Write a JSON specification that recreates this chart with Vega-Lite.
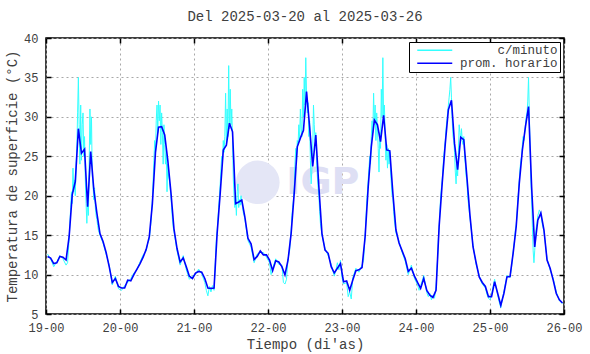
{
 "$schema": "https://vega.github.io/schema/vega-lite/v6.json",
 "width": 518,
 "height": 276,
 "autosize": {"type": "none"},
 "padding": {"left": 46, "top": 38, "right": 26, "bottom": 40},
 "background": "white",
 "title": {"text": "Del 2025-03-20 al 2025-03-26", "font": "Liberation Mono", "fontSize": 14, "fontWeight": "normal", "color": "#404040", "offset": 8},
 "config": {
  "view": {"stroke": "#000", "strokeWidth": 1.5},
  "axis": {"labelFont": "Liberation Mono", "labelFontSize": 12, "labelColor": "#404040", "titleFont": "Liberation Mono", "titleFontSize": 14, "titleFontWeight": "normal", "titleColor": "#404040", "domain": false, "tickColor": "#000", "tickSize": -5, "tickWidth": 1.5, "gridColor": "#a8a8a8", "gridDash": [2, 3], "gridWidth": 1},
  "legend": {"orient": "top-right", "offset": 4, "title": null, "strokeColor": "#000", "fillColor": "#fff", "padding": 2, "symbolType": "M-1,0L6,0", "symbolSize": 100, "symbolStrokeWidth": 1.5, "symbolOffset": 5, "labelFont": "Liberation Mono", "labelFontSize": 12.5, "labelColor": "#404040", "labelAlign": "right", "labelOffset": 129, "rowPadding": 0, "cornerRadius": 0}
 },
 "datasets": {
  "horario": [
   {"h":0.5,"v":12.3},{"h":1.5,"v":12.1},{"h":2.5,"v":11.4},{"h":3.5,"v":11.5},{"h":4.5,"v":12.3},{"h":5.5,"v":12.2},{"h":6.5,"v":11.85},{"h":7.5,"v":14.8},{"h":8.5,"v":20.1},{"h":9.5,"v":21.8},{"h":10.5,"v":28.5},{"h":11.5,"v":25.4},{"h":12.5,"v":25.9},{"h":13.5,"v":18.6},{"h":14.5,"v":25.6},{"h":15.5,"v":20.8},{"h":16.5,"v":17.8},{"h":17.5,"v":15.2},{"h":18.5,"v":14.2},{"h":19.5,"v":12.8},{"h":20.5,"v":11.0},{"h":21.5,"v":9.0},{"h":22.5,"v":9.5},{"h":23.5,"v":8.5},
   {"h":24.5,"v":8.3},{"h":25.5,"v":8.3},{"h":26.5,"v":9.3},{"h":27.5,"v":9.2},{"h":28.5,"v":10.0},{"h":29.5,"v":10.7},{"h":30.5,"v":11.4},{"h":31.5,"v":12.2},{"h":32.5,"v":13.2},{"h":33.5,"v":14.8},{"h":34.5,"v":19.0},{"h":35.5,"v":25.5},{"h":36.5,"v":28.7},{"h":37.5,"v":28.75},{"h":38.5,"v":27.7},{"h":39.5,"v":24.5},{"h":40.5,"v":20.5},{"h":41.5,"v":15.8},{"h":42.5,"v":13.3},{"h":43.5,"v":11.6},{"h":44.5,"v":12.1},{"h":45.5,"v":11.0},{"h":46.5,"v":9.8},{"h":47.5,"v":9.5},
   {"h":48.5,"v":10.2},{"h":49.5,"v":10.4},{"h":50.5,"v":10.3},{"h":51.5,"v":9.5},{"h":52.5,"v":8.3},{"h":53.5,"v":8.25},{"h":54.5,"v":8.3},{"h":55.5,"v":15.2},{"h":56.5,"v":20.3},{"h":57.5,"v":25.8},{"h":58.5,"v":26.4},{"h":59.5,"v":29.2},{"h":60.5,"v":28.1},{"h":61.5,"v":19.0},{"h":62.5,"v":19.2},{"h":63.5,"v":19.45},{"h":64.5,"v":17.3},{"h":65.5,"v":14.6},{"h":66.5,"v":13.9},{"h":67.5,"v":11.9},{"h":68.5,"v":12.3},{"h":69.5,"v":13.0},{"h":70.5,"v":12.5},{"h":71.5,"v":12.5},
   {"h":72.5,"v":11.85},{"h":73.5,"v":10.5},{"h":74.5,"v":11.75},{"h":75.5,"v":11.6},{"h":76.5,"v":11.0},{"h":77.5,"v":9.95},{"h":78.5,"v":11.85},{"h":79.5,"v":15.2},{"h":80.5,"v":20.3},{"h":81.5,"v":26.2},{"h":82.5,"v":27.3},{"h":83.5,"v":28.3},{"h":84.5,"v":33.2},{"h":85.5,"v":28.75},{"h":86.5,"v":23.7},{"h":87.5,"v":27.7},{"h":88.5,"v":21.1},{"h":89.5,"v":15.2},{"h":90.5,"v":13.1},{"h":91.5,"v":12.7},{"h":92.5,"v":11.0},{"h":93.5,"v":10.2},{"h":94.5,"v":10.8},{"h":95.5,"v":11.4},
   {"h":96.5,"v":9.1},{"h":97.5,"v":9.2},{"h":98.5,"v":8.0},{"h":99.5,"v":9.3},{"h":100.5,"v":10.5},{"h":101.5,"v":10.6},{"h":102.5,"v":10.9},{"h":103.5,"v":14.8},{"h":104.5,"v":21.1},{"h":105.5,"v":26.2},{"h":106.5,"v":29.6},{"h":107.5,"v":29.0},{"h":108.5,"v":26.85},{"h":109.5,"v":30.2},{"h":110.5,"v":25.8},{"h":111.5,"v":25.7},{"h":112.5,"v":20.3},{"h":113.5,"v":15.65},{"h":114.5,"v":14.0},{"h":115.5,"v":13.0},{"h":116.5,"v":12.0},{"h":117.5,"v":10.4},{"h":118.5,"v":10.8},{"h":119.5,"v":9.8},
   {"h":120.5,"v":9.0},{"h":121.5,"v":8.25},{"h":122.5,"v":9.5},{"h":123.5,"v":8.0},{"h":124.5,"v":7.4},{"h":125.5,"v":7.1},{"h":126.5,"v":8.0},{"h":127.5,"v":16.1},{"h":128.5,"v":21.6},{"h":129.5,"v":26.6},{"h":130.5,"v":30.9},{"h":131.5,"v":32.1},{"h":132.5,"v":26.6},{"h":133.5,"v":23.3},{"h":134.5,"v":27.4},{"h":135.5,"v":27.1},{"h":136.5,"v":22.4},{"h":137.5,"v":17.5},{"h":138.5,"v":13.5},{"h":139.5,"v":11.5},{"h":140.5,"v":9.7},{"h":141.5,"v":9.0},{"h":142.5,"v":8.5},{"h":143.5,"v":7.2},
   {"h":144.5,"v":7.2},{"h":145.5,"v":9.1},{"h":146.5,"v":7.6},{"h":147.5,"v":6.1},{"h":148.5,"v":7.6},{"h":149.5,"v":9.7},{"h":150.5,"v":9.75},{"h":151.5,"v":12.7},{"h":152.5,"v":16.1},{"h":153.5,"v":21.6},{"h":154.5,"v":25.8},{"h":155.5,"v":28.75},{"h":156.5,"v":31.3},{"h":157.5,"v":21.1},{"h":158.5,"v":13.5},{"h":159.5,"v":16.9},{"h":160.5,"v":17.8},{"h":161.5,"v":15.65},{"h":162.5,"v":11.85},{"h":163.5,"v":10.8},{"h":164.5,"v":9.3},{"h":165.5,"v":7.6},{"h":166.5,"v":6.8},{"h":167.5,"v":6.4}
  ],
  "minuto": [
   {"h":0.5,"v":12.6},{"h":1.5,"v":12.0},{"h":2.5,"v":11.0},{"h":3.5,"v":11.6},{"h":4.5,"v":12.4},{"h":5.5,"v":12.0},{"h":6.5,"v":11.2},
   {"h":7.0,"v":11.5},{"h":7.25,"v":13.0},{"h":7.5,"v":14.5},{"h":7.75,"v":16.5},{"h":8.0,"v":18.5},{"h":8.25,"v":20.5},{"h":8.5,"v":19.0},{"h":8.75,"v":23.5},{"h":9.0,"v":20.5},{"h":9.25,"v":22.0},{"h":9.5,"v":20.0},{"h":9.75,"v":24.0},{"h":10.0,"v":26.0},{"h":10.25,"v":30.5},{"h":10.5,"v":35.0},{"h":10.75,"v":29.0},{"h":11.0,"v":24.0},{"h":11.25,"v":31.5},{"h":11.5,"v":24.5},{"h":11.75,"v":29.0},{"h":12.0,"v":30.5},{"h":12.25,"v":25.0},{"h":12.5,"v":27.5},{"h":12.75,"v":22.0},{"h":13.0,"v":19.0},{"h":13.25,"v":16.5},{"h":13.5,"v":19.5},{"h":13.75,"v":17.5},{"h":14.0,"v":24.0},{"h":14.25,"v":31.0},{"h":14.5,"v":26.5},{"h":14.75,"v":30.0},{"h":15.0,"v":22.5},{"h":15.25,"v":21.5},{"h":15.5,"v":19.5},{"h":15.75,"v":21.0},{"h":16.0,"v":18.5},{"h":16.25,"v":17.5},{"h":16.5,"v":17.0},{"h":16.75,"v":16.2},{"h":17.0,"v":15.6},
   {"h":17.5,"v":15.0},{"h":18.5,"v":14.0},{"h":19.5,"v":12.6},{"h":20.5,"v":11.2},{"h":21.5,"v":8.7},{"h":22.5,"v":9.8},{"h":23.5,"v":8.2},
   {"h":24.5,"v":8.0},{"h":25.5,"v":8.6},{"h":26.5,"v":9.0},{"h":27.5,"v":9.5},{"h":28.5,"v":10.2},{"h":29.5,"v":10.6},{"h":30.5,"v":11.6},{"h":31.5,"v":12.5},{"h":32.5,"v":13.0},{"h":33.0,"v":14.0},
   {"h":33.5,"v":14.5},{"h":33.75,"v":15.5},{"h":34.0,"v":16.5},{"h":34.25,"v":18.0},{"h":34.5,"v":19.5},{"h":34.75,"v":22.0},{"h":35.0,"v":24.5},{"h":35.25,"v":27.0},{"h":35.5,"v":25.0},{"h":35.75,"v":29.5},{"h":36.0,"v":31.5},{"h":36.25,"v":28.0},{"h":36.5,"v":32.0},{"h":36.75,"v":29.5},{"h":37.0,"v":31.5},{"h":37.25,"v":26.5},{"h":37.5,"v":30.5},{"h":37.75,"v":28.0},{"h":38.0,"v":24.0},{"h":38.25,"v":29.0},{"h":38.5,"v":26.5},{"h":38.75,"v":24.0},{"h":39.0,"v":26.0},{"h":39.25,"v":20.5},{"h":39.5,"v":24.0},{"h":39.75,"v":22.5},{"h":40.0,"v":22.0},{"h":40.25,"v":21.0},{"h":40.5,"v":20.0},{"h":40.75,"v":18.5},{"h":41.0,"v":17.0},{"h":41.25,"v":16.0},{"h":41.5,"v":15.5},
   {"h":42.5,"v":13.0},{"h":43.5,"v":11.2},{"h":44.5,"v":12.4},{"h":45.5,"v":10.6},{"h":46.5,"v":9.4},{"h":47.5,"v":9.8},{"h":48.5,"v":10.0},{"h":49.5,"v":10.7},{"h":50.5,"v":10.1},{"h":51.5,"v":9.0},{"h":52.0,"v":8.0},{"h":52.5,"v":7.3},{"h":53.0,"v":8.5},{"h":53.5,"v":7.8},{"h":54.0,"v":8.6},{"h":54.5,"v":8.0},
   {"h":54.75,"v":10.0},{"h":55.0,"v":12.5},{"h":55.25,"v":14.5},{"h":55.5,"v":15.5},{"h":55.75,"v":17.0},{"h":56.0,"v":18.5},{"h":56.25,"v":20.0},{"h":56.5,"v":21.5},{"h":56.75,"v":23.5},{"h":57.0,"v":25.0},{"h":57.25,"v":24.5},{"h":57.5,"v":27.0},{"h":57.75,"v":25.5},{"h":58.0,"v":27.5},{"h":58.25,"v":33.0},{"h":58.5,"v":26.5},{"h":58.75,"v":31.0},{"h":59.0,"v":27.5},{"h":59.25,"v":36.5},{"h":59.5,"v":28.5},{"h":59.75,"v":33.5},{"h":60.0,"v":29.0},{"h":60.25,"v":31.0},{"h":60.5,"v":27.0},{"h":60.75,"v":22.0},{"h":61.0,"v":20.0},{"h":61.25,"v":18.5},{"h":61.5,"v":19.5},{"h":61.75,"v":17.5},{"h":62.0,"v":20.5},{"h":62.25,"v":21.5},{"h":62.5,"v":18.5},{"h":62.75,"v":19.5},{"h":63.0,"v":18.8},{"h":63.25,"v":20.0},{"h":63.5,"v":19.2},{"h":63.75,"v":18.5},{"h":64.0,"v":17.8},{"h":64.25,"v":17.5},{"h":64.5,"v":17.0},
   {"h":65.5,"v":14.3},{"h":66.5,"v":13.5},{"h":67.5,"v":11.5},{"h":68.5,"v":12.6},{"h":69.5,"v":12.8},{"h":70.5,"v":12.8},{"h":71.5,"v":12.2},{"h":72.5,"v":11.5},{"h":73.0,"v":10.0},{"h":73.5,"v":10.8},{"h":74.5,"v":12.0},{"h":75.5,"v":11.3},{"h":76.5,"v":11.2},{"h":77.0,"v":9.0},{"h":77.5,"v":8.8},{"h":78.0,"v":9.4},{"h":78.5,"v":12.0},
   {"h":79.0,"v":13.0},{"h":79.25,"v":14.5},{"h":79.5,"v":15.5},{"h":79.75,"v":17.5},{"h":80.0,"v":18.5},{"h":80.25,"v":19.5},{"h":80.5,"v":21.0},{"h":80.75,"v":24.0},{"h":81.0,"v":26.0},{"h":81.25,"v":24.5},{"h":81.5,"v":27.0},{"h":81.75,"v":26.5},{"h":82.0,"v":29.0},{"h":82.25,"v":27.0},{"h":82.5,"v":31.0},{"h":82.75,"v":28.5},{"h":83.0,"v":27.5},{"h":83.25,"v":33.5},{"h":83.5,"v":30.0},{"h":83.75,"v":35.0},{"h":84.0,"v":31.5},{"h":84.25,"v":37.5},{"h":84.5,"v":33.0},{"h":84.75,"v":30.5},{"h":85.0,"v":31.8},{"h":85.25,"v":27.5},{"h":85.5,"v":29.5},{"h":85.75,"v":24.5},{"h":86.0,"v":21.5},{"h":86.25,"v":23.5},{"h":86.5,"v":25.5},{"h":86.75,"v":31.5},{"h":87.0,"v":29.0},{"h":87.25,"v":27.0},{"h":87.5,"v":28.0},{"h":87.75,"v":24.5},{"h":88.0,"v":22.5},{"h":88.25,"v":21.0},{"h":88.5,"v":20.0},{"h":88.75,"v":18.0},{"h":89.0,"v":16.5},
   {"h":89.5,"v":15.0},{"h":90.5,"v":13.3},{"h":91.5,"v":12.4},{"h":92.5,"v":11.3},{"h":93.5,"v":9.8},{"h":94.0,"v":10.5},{"h":94.5,"v":11.5},{"h":95.0,"v":10.6},{"h":95.5,"v":11.8},{"h":96.0,"v":9.6},{"h":96.5,"v":8.8},{"h":97.5,"v":9.0},{"h":98.0,"v":7.2},{"h":98.5,"v":7.8},{"h":99.0,"v":6.9},{"h":99.5,"v":9.6},{"h":100.5,"v":10.8},{"h":101.5,"v":10.3},{"h":102.5,"v":11.2},{"h":103.0,"v":11.8},
   {"h":103.25,"v":13.5},{"h":103.5,"v":15.0},{"h":103.75,"v":17.0},{"h":104.0,"v":19.0},{"h":104.25,"v":20.5},{"h":104.5,"v":22.0},{"h":104.75,"v":23.5},{"h":105.0,"v":25.0},{"h":105.25,"v":24.0},{"h":105.5,"v":27.5},{"h":105.75,"v":29.5},{"h":106.0,"v":28.0},{"h":106.25,"v":33.0},{"h":106.5,"v":29.0},{"h":106.75,"v":31.5},{"h":107.0,"v":27.0},{"h":107.25,"v":30.5},{"h":107.5,"v":28.5},{"h":107.75,"v":26.0},{"h":108.0,"v":23.0},{"h":108.25,"v":28.0},{"h":108.5,"v":26.0},{"h":108.75,"v":33.5},{"h":109.0,"v":30.0},{"h":109.25,"v":37.5},{"h":109.5,"v":29.5},{"h":109.75,"v":31.5},{"h":110.0,"v":27.5},{"h":110.25,"v":24.5},{"h":110.5,"v":26.5},{"h":110.75,"v":23.5},{"h":111.0,"v":26.0},{"h":111.25,"v":24.0},{"h":111.5,"v":25.5},{"h":111.75,"v":23.0},{"h":112.0,"v":21.5},{"h":112.25,"v":20.0},{"h":112.5,"v":19.8},{"h":112.75,"v":18.0},{"h":113.0,"v":16.8},
   {"h":113.5,"v":15.3},{"h":114.5,"v":14.2},{"h":115.5,"v":12.8},{"h":116.5,"v":11.7},{"h":117.5,"v":10.0},{"h":118.5,"v":11.2},{"h":119.5,"v":9.5},{"h":120.5,"v":8.7},{"h":121.0,"v":8.0},{"h":121.5,"v":8.6},{"h":122.0,"v":9.2},{"h":122.5,"v":9.9},{"h":123.5,"v":7.7},{"h":124.0,"v":7.2},{"h":124.5,"v":7.6},{"h":125.0,"v":6.8},{"h":125.5,"v":7.4},{"h":126.0,"v":7.0},{"h":126.5,"v":8.5},
   {"h":127.0,"v":12.0},{"h":127.25,"v":14.5},{"h":127.5,"v":16.0},{"h":127.75,"v":18.0},{"h":128.0,"v":20.0},{"h":128.25,"v":21.0},{"h":128.5,"v":22.0},{"h":128.75,"v":23.5},{"h":129.0,"v":25.0},{"h":129.25,"v":26.0},{"h":129.5,"v":27.0},{"h":129.75,"v":28.5},{"h":130.0,"v":29.5},{"h":130.25,"v":30.5},{"h":130.5,"v":31.5},{"h":130.75,"v":32.5},{"h":131.0,"v":33.5},{"h":131.25,"v":35.0},{"h":131.5,"v":32.5},{"h":131.75,"v":29.5},{"h":132.0,"v":27.5},{"h":132.25,"v":27.0},{"h":132.5,"v":25.5},{"h":132.75,"v":23.0},{"h":133.0,"v":21.5},{"h":133.25,"v":24.0},{"h":133.5,"v":22.5},{"h":133.75,"v":25.5},{"h":134.0,"v":29.0},{"h":134.25,"v":28.0},{"h":134.5,"v":27.0},{"h":134.75,"v":28.5},{"h":135.0,"v":27.0},{"h":135.25,"v":26.5},{"h":135.5,"v":27.5},{"h":135.75,"v":25.0},{"h":136.0,"v":24.0},{"h":136.25,"v":22.5},{"h":136.5,"v":22.0},{"h":136.75,"v":20.0},{"h":137.0,"v":19.0},{"h":137.5,"v":17.2},
   {"h":138.5,"v":13.7},{"h":139.5,"v":11.3},{"h":140.5,"v":9.9},{"h":141.0,"v":9.2},{"h":141.5,"v":8.8},{"h":142.5,"v":8.3},{"h":143.0,"v":7.5},{"h":143.5,"v":7.0},{"h":144.0,"v":6.8},{"h":144.5,"v":7.4},{"h":145.0,"v":8.5},{"h":145.5,"v":9.4},{"h":146.0,"v":8.3},{"h":146.5,"v":7.4},{"h":147.0,"v":6.5},{"h":147.5,"v":5.8},{"h":148.0,"v":6.9},{"h":148.5,"v":7.8},{"h":149.5,"v":9.9},{"h":150.5,"v":9.6},{"h":151.0,"v":11.0},{"h":151.5,"v":12.9},
   {"h":152.0,"v":14.5},{"h":152.25,"v":15.8},{"h":152.5,"v":16.3},{"h":152.75,"v":17.5},{"h":153.0,"v":19.5},{"h":153.25,"v":20.5},{"h":153.5,"v":22.0},{"h":153.75,"v":23.5},{"h":154.0,"v":24.5},{"h":154.25,"v":25.0},{"h":154.5,"v":26.5},{"h":154.75,"v":27.5},{"h":155.0,"v":27.0},{"h":155.25,"v":28.0},{"h":155.5,"v":29.0},{"h":155.75,"v":30.0},{"h":156.0,"v":30.5},{"h":156.25,"v":32.0},{"h":156.5,"v":35.0},{"h":156.75,"v":30.5},{"h":157.0,"v":26.0},{"h":157.25,"v":22.0},{"h":157.5,"v":19.5},{"h":157.75,"v":16.0},{"h":158.0,"v":13.0},{"h":158.25,"v":11.5},{"h":158.5,"v":13.0},{"h":158.75,"v":15.0},{"h":159.0,"v":16.0},{"h":159.25,"v":16.5},{"h":159.5,"v":17.5},{"h":159.75,"v":17.8},{"h":160.0,"v":18.2},{"h":160.25,"v":18.0},{"h":160.5,"v":17.5},{"h":160.75,"v":17.0},{"h":161.0,"v":16.3},{"h":161.5,"v":15.5},
   {"h":162.5,"v":12.0},{"h":163.5,"v":10.6},{"h":164.5,"v":9.5},{"h":165.5,"v":7.8},{"h":166.5,"v":6.7},{"h":167.5,"v":6.3}
  ]
 },
 "layer": [
  {
   "data": {"values": [{}]},
   "mark": {"type": "point", "shape": "circle", "filled": true, "color": "#e4e6f6", "opacity": 1, "size": 1900},
   "encoding": {"x": {"datum": 68.7, "type": "quantitative", "axis": null}, "y": {"datum": 21.7, "type": "quantitative", "axis": null}}
  },
  {
   "data": {"values": [{}]},
   "mark": {"type": "text", "text": "IGP", "font": "DejaVu Sans", "fontWeight": "bold", "fontSize": 38, "color": "#dedff4"},
   "encoding": {"x": {"datum": 89.8, "type": "quantitative", "axis": null}, "y": {"datum": 21.6, "type": "quantitative", "axis": null}}
  },
  {
   "data": {"name": "minuto"},
   "mark": {"type": "line", "strokeWidth": 1},
   "encoding": {
    "x": {"field": "h", "type": "quantitative", "scale": {"domain": [0, 168], "nice": false, "zero": false},
     "axis": {"orient": "bottom", "values": [0, 24, 48, 72, 96, 120, 144, 168], "labelExpr": "(19 + datum.value / 24) + '-00'", "title": "Tiempo (di'as)", "grid": true, "labelPadding": 13, "titlePadding": 4, "labelFlush": false}},
    "y": {"field": "v", "type": "quantitative", "scale": {"domain": [5, 40], "nice": false, "zero": false},
     "axis": {"orient": "left", "values": [5, 10, 15, 20, 25, 30, 35, 40], "title": "Temperatura de superficie (°C)", "grid": true, "labelPadding": 13, "titlePadding": 4, "labelFlush": false}},
    "color": {"datum": "c/minuto", "type": "nominal", "scale": {"domain": ["c/minuto", "prom. horario"], "range": ["#33ffff", "#0000ff"]}}
   }
  },
  {
   "data": {"name": "horario"},
   "mark": {"type": "line", "strokeWidth": 1.6},
   "encoding": {
    "x": {"field": "h", "type": "quantitative", "axis": {"orient": "top", "values": [0, 24, 48, 72, 96, 120, 144, 168], "labels": false, "title": null, "grid": false}},
    "y": {"field": "v", "type": "quantitative", "axis": {"orient": "right", "values": [5, 10, 15, 20, 25, 30, 35, 40], "labels": false, "title": null, "grid": false}},
    "color": {"datum": "prom. horario", "type": "nominal"}
   }
  }
 ],
 "resolve": {"axis": {"x": "independent", "y": "independent"}}
}
